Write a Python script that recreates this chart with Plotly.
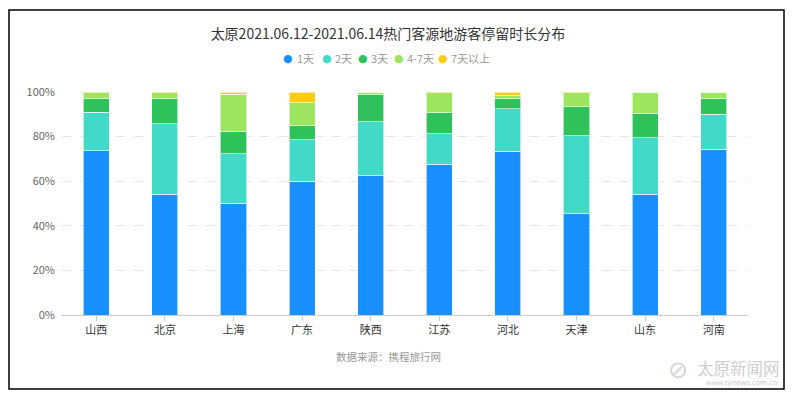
import plotly.graph_objects as go

categories = ["山西", "北京", "上海", "广东", "陕西", "江苏", "河北", "天津", "山东", "河南"]
series_names = ["1天", "2天", "3天", "4-7天", "7天以上"]
d1 = [73.7, 54.1, 50.1, 59.9, 62.5, 67.7, 73.4, 45.3, 54.1, 74.3]
d2 = [17.2, 31.7, 22.1, 18.6, 24.2, 13.5, 19.0, 35.0, 25.4, 15.7]
d3 = [6.0, 11.1, 10.1, 6.4, 12.0, 9.4, 4.6, 13.0, 10.9, 7.0]
d47 = [2.7, 2.8, 16.6, 10.3, 1.3, 9.0, 1.3, 6.4, 9.6, 3.0]
d7p = [0.4, 0.3, 1.1, 4.8, 0.0, 0.4, 1.7, 0.3, 0.0, 0.0]
y_ticks = [0, 20, 40, 60, 80, 100]
y_tick_labels = ["0%", "20%", "40%", "60%", "80%", "100%"]
colors = ["#1890FF", "#41D9C7", "#2FC25B", "#9BE65E", "#FACC14"]

series = [d1, d2, d3, d47, d7p]
FONT = "Noto Sans CJK SC, Microsoft YaHei, sans-serif"

fig = go.Figure()
for name, vals, c in zip(series_names, series, colors):
    fig.add_trace(go.Bar(
        x=categories, y=vals, name=name, showlegend=False,
        marker=dict(color=c, line=dict(color="rgba(255,255,255,0.6)", width=1)),
        hovertemplate="%{x} " + name + ": %{y}%<extra></extra>",
    ))

L, R, T, B = 62, 44, 92, 83
W, H = 792, 398
pw, ph = W - L - R, H - T - B

def px(x):
    return (x - L) / pw

def py(y):
    return (H - B - y) / ph

# compact legend (circle marker + label) like the original
legend_marker_x = [288, 327, 363, 399, 443]
legend_text_x = [295, 333, 369, 405, 449]
legend_y = 58
annotations = []
for name, c, mx, tx in zip(series_names, colors, legend_marker_x, legend_text_x):
    annotations.append(dict(text="●", xref="paper", yref="paper", x=px(mx), y=py(legend_y),
                            xanchor="center", yanchor="middle", showarrow=False,
                            font=dict(size=11, color=c, family="DejaVu Sans")))
    annotations.append(dict(text=name, xref="paper", yref="paper", x=px(tx), y=py(legend_y),
                            xanchor="left", yanchor="middle", showarrow=False,
                            font=dict(size=11, color="#999", family=FONT)))

annotations += [
    dict(text="数据来源：携程旅行网", xref="paper", yref="paper",
         x=px(388), y=py(356), xanchor="center", yanchor="middle",
         showarrow=False, font=dict(size=10.5, color="#999", family=FONT)),
    dict(text="太原新闻网", xref="paper", yref="paper",
         x=px(782), y=py(368), xanchor="right", yanchor="middle",
         showarrow=False, font=dict(size=16.5, color="#cfcfcf", family=FONT)),
    dict(text="www.tynews.com.cn", xref="paper", yref="paper",
         x=px(779), y=py(383), xanchor="right", yanchor="middle",
         showarrow=False, font=dict(size=7, color="#c8c8c8", family="DejaVu Sans")),
    dict(text="⊘", xref="paper", yref="paper",
         x=px(678), y=py(370), xanchor="center", yanchor="middle",
         showarrow=False, font=dict(size=24, color="#d5d5d5", family="DejaVu Sans")),
]

fig.update_layout(
    width=W, height=H,
    margin=dict(l=L, r=R, t=T, b=B, autoexpand=False),
    paper_bgcolor="white", plot_bgcolor="white",
    barmode="stack", bargap=0.62, showlegend=False,
    font=dict(family=FONT, size=11, color="#666"),
    title=dict(text="太原2021.06.12-2021.06.14热门客源地游客停留时长分布",
               x=px(388), xref="paper", xanchor="center", y=1 - 34 / H, yanchor="middle",
               font=dict(size=14, color="#333", family=FONT)),
    xaxis=dict(showline=True, linecolor="#ccc", linewidth=1, ticks="outside",
               ticklen=5, tickcolor="#ccc", tickfont=dict(size=11, color="#333"),
               showgrid=False, fixedrange=True),
    yaxis=dict(range=[0, 100], tickvals=y_ticks, ticktext=y_tick_labels,
               showgrid=True, gridcolor="#e6e6e6", griddash="dash", gridwidth=1,
               zeroline=False, showline=False, tickfont=dict(size=11, color="#666"),
               ticks="", ticklabelstandoff=6, fixedrange=True),
    shapes=[dict(type="rect", xref="paper", yref="paper",
                 x0=px(9), x1=px(784), y0=py(389), y1=py(10),
                 line=dict(color="black", width=1.5), fillcolor="rgba(0,0,0,0)",
                 layer="above")],
    annotations=annotations,
)

fig.write_html("out.html", config={"displayModeBar": False},
               post_script="document.body.style.margin='0';")
